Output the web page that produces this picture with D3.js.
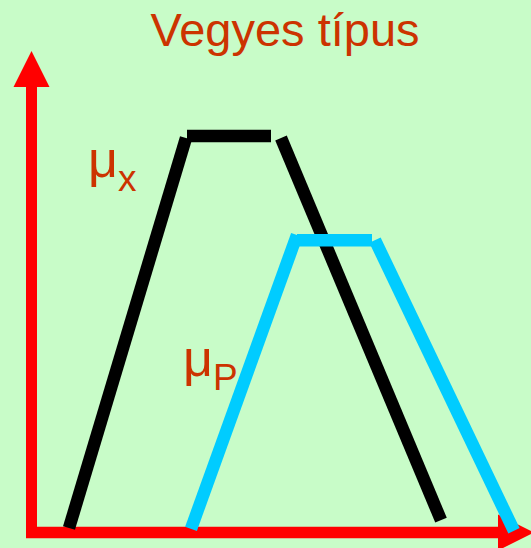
<!DOCTYPE html>
<html><head><meta charset="utf-8">
<script src="https://cdn.jsdelivr.net/npm/d3@7"></script>
<style>html,body{margin:0;padding:0;background:#c8fcc8;}svg{display:block;}</style>
</head><body>
<script>
// Data (x: universe units, y: membership degree)
const title = "Vegyes típus";
const muXSegments = [
  [[0.74, 0.01], [3.08, 0.995]],
  [[3.10, 1.00], [4.78, 1.00]],
  [[4.98, 0.995], [8.18, 0.03]]
];
const muPSegments = [
  [[3.18, 0.008], [5.30, 0.75]],
  [[5.30, 0.737], [6.80, 0.737]],
  [[6.86, 0.737], [9.64, 0.003]]
];
const labelMain = ["μ", "μ"];
const labelSub = ["x", "P"];
const labelPos = [[1.12, 0.896], [3.02, 0.394]];
</script>
<script>
const W = 531, H = 548;
const svg = d3.select("body").append("svg").attr("width", W).attr("height", H);
svg.append("rect").attr("width", W).attr("height", H).attr("fill", "#c8fcc8");

const x = d3.scaleLinear().domain([0, 10]).range([32, 532]);
const y = d3.scaleLinear().domain([0, 1]).range([532, 136]);

const orange = "#cc3300";
svg.append("text").attr("x", 285).attr("y", 46).attr("text-anchor", "middle")
  .attr("font-family", "Liberation Sans, Arial, sans-serif").attr("font-size", 47)
  .attr("fill", orange).text(title);

// axes
const red = "#ff0000";
svg.append("line").attr("x1", x(0)-0.5).attr("x2", x(0)-0.5).attr("y1", 533).attr("y2", 86)
  .attr("stroke", red).attr("stroke-width", 11);
svg.append("path").attr("d", "M13.5,87 L31.5,51 L49.5,87 Z").attr("fill", red);
svg.append("line").attr("x1", 26).attr("x2", 499).attr("y1", 532.5).attr("y2", 532.5)
  .attr("stroke", red).attr("stroke-width", 11.5);
svg.append("path").attr("d", "M498,514.5 L534,532.5 L498,550.5 Z").attr("fill", red);

function drawSegs(segs, color, w) {
  svg.append("g").selectAll("line").data(segs).join("line")
    .attr("x1", d => x(d[0][0])).attr("y1", d => y(d[0][1]))
    .attr("x2", d => x(d[1][0])).attr("y2", d => y(d[1][1]))
    .attr("stroke", color).attr("stroke-width", w).attr("stroke-linecap", "butt");
}
drawSegs(muXSegments, "#000000", 12.5);
drawSegs(muPSegments, "#00ccff", 12.5);

labelMain.forEach((m, i) => {
  const t = svg.append("text").attr("x", x(labelPos[i][0])).attr("y", y(labelPos[i][1]))
    .attr("font-family", "Liberation Sans, Arial, sans-serif").attr("fill", orange);
  t.append("tspan").attr("font-size", 52).text(m);
  t.append("tspan").attr("font-size", 37).attr("dy", 14).text(labelSub[i]);
});
</script>
</body></html>
